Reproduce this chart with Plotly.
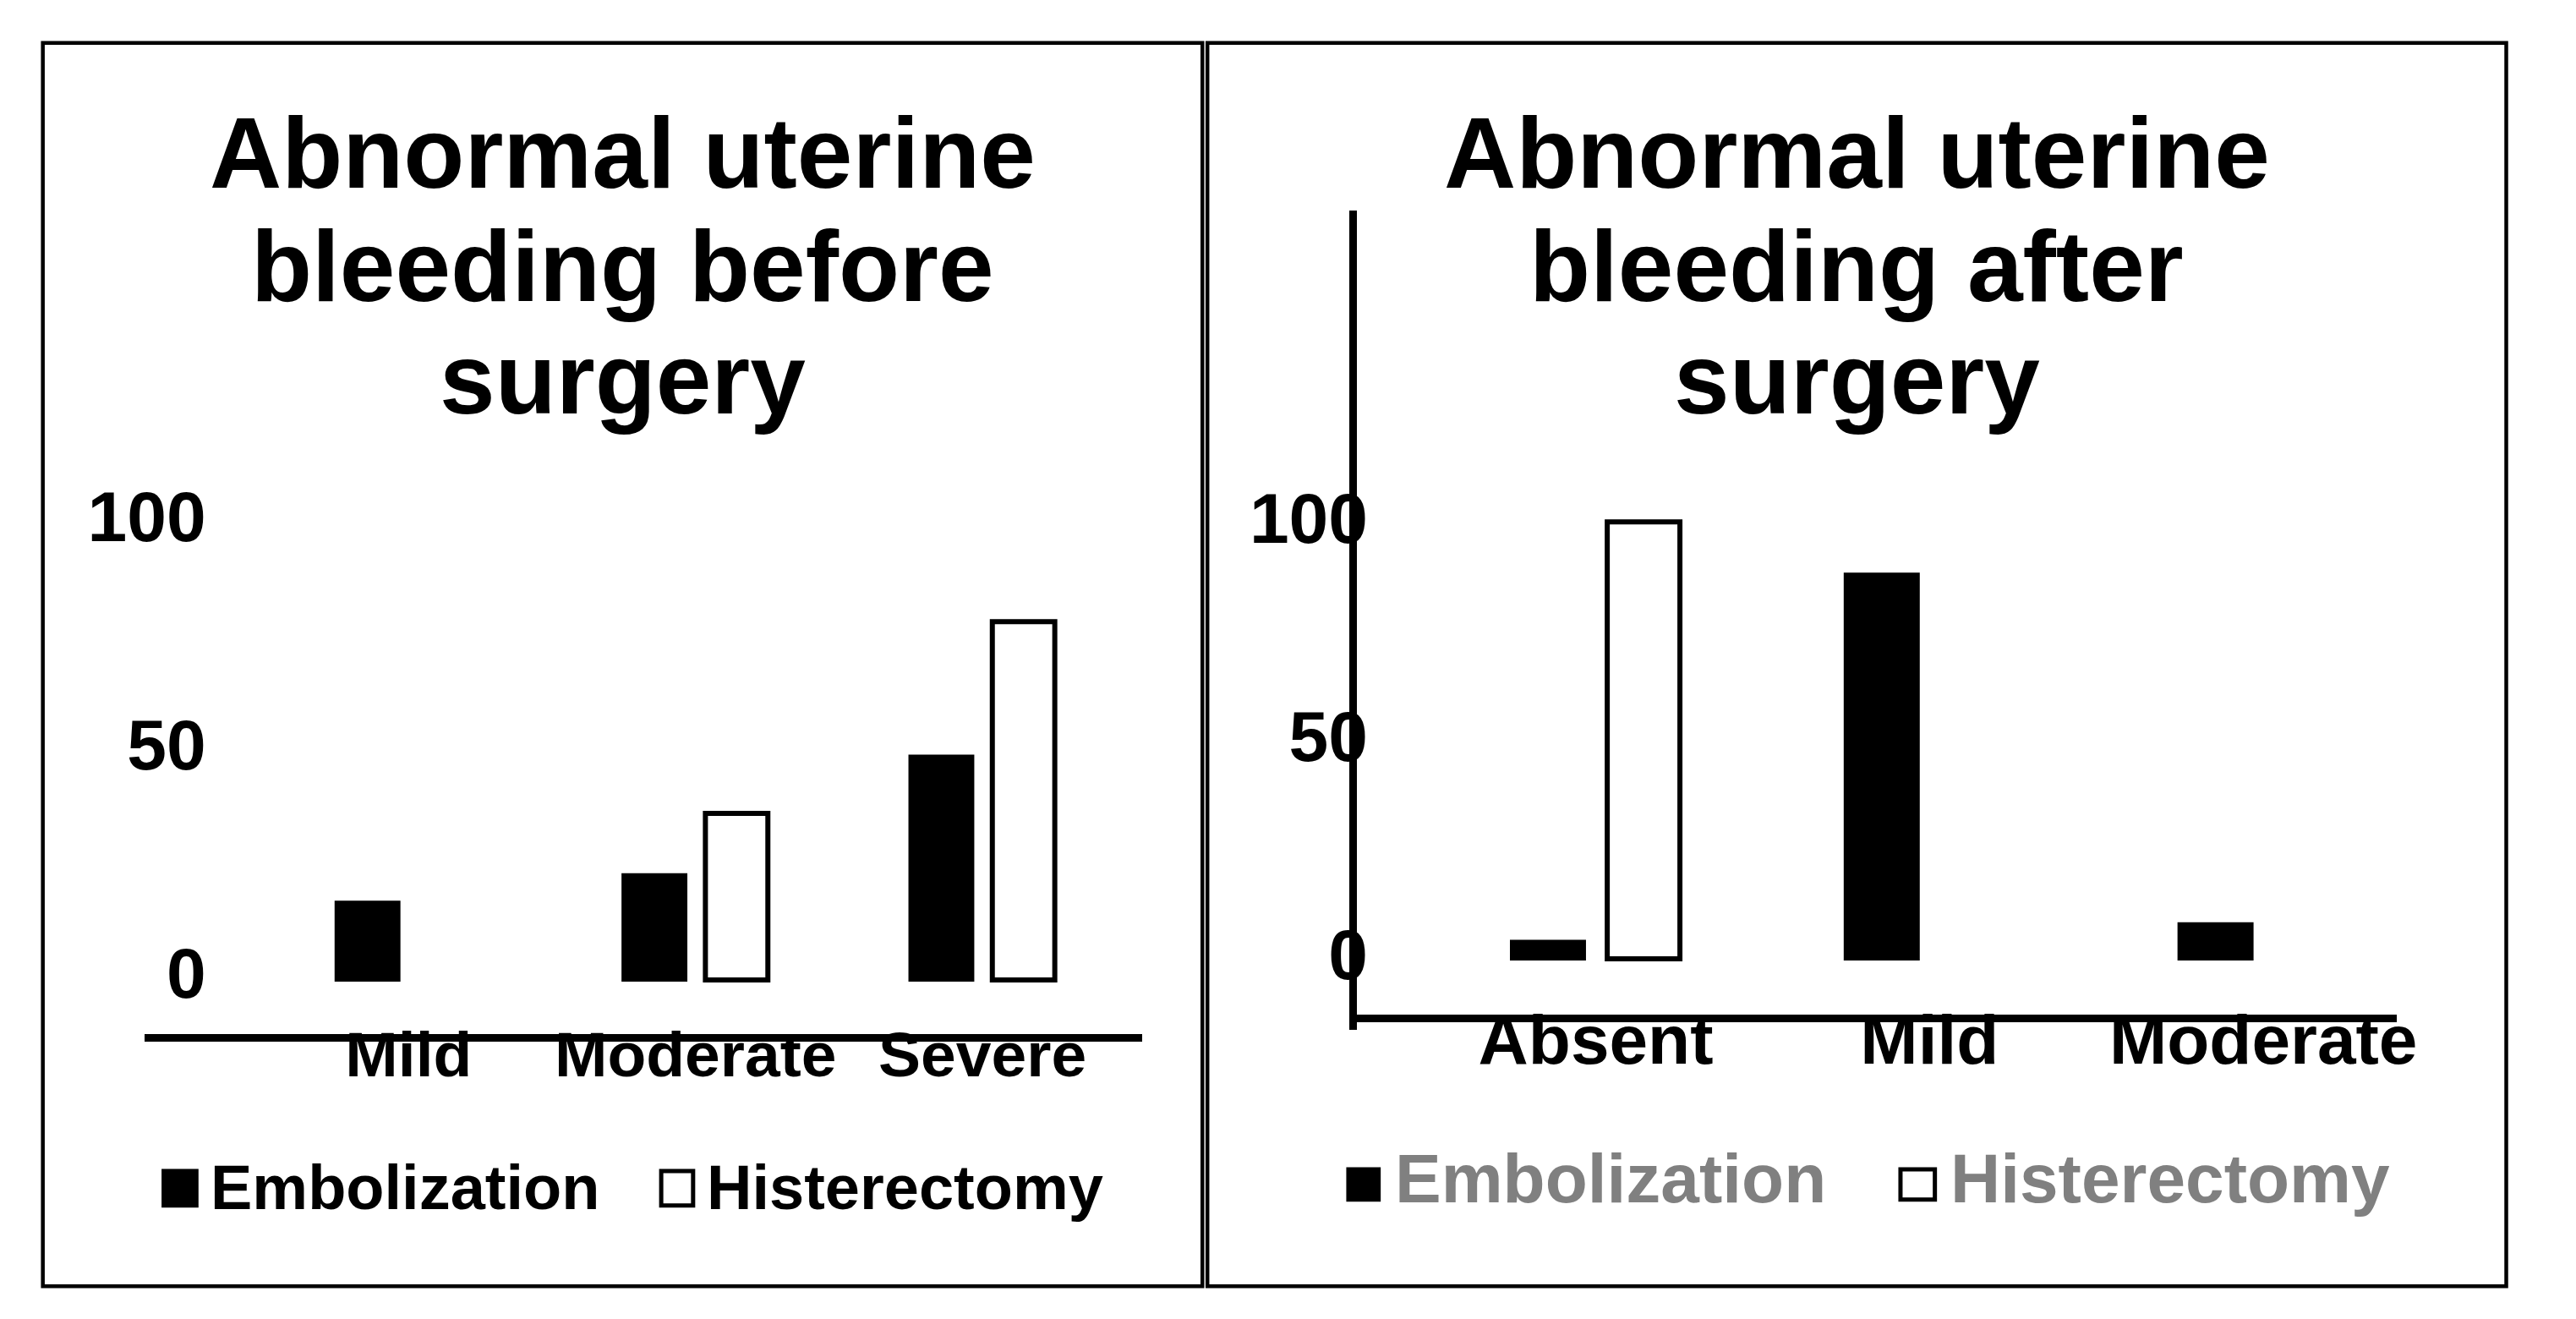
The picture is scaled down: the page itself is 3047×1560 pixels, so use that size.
import plotly.graph_objects as go

# ---------------- data ----------------
CATS_BEFORE = ["Mild", "Moderate", "Severe"]
EMB_BEFORE = [17, 23, 49]
HIST_BEFORE = [None, 36.5, 78.5]   # no bar drawn for Mild

CATS_AFTER = ["Absent", "Mild", "Moderate"]
EMB_AFTER = [4, 88, 8]
HIST_AFTER = [100, None, None]

Y_TICKS = [0, 50, 100]

TITLE_BEFORE = ["Abnormal uterine", "bleeding before", "surgery"]
TITLE_AFTER = ["Abnormal uterine", "bleeding after", "surgery"]
SERIES = ["Embolization", "Histerectomy"]

# ---------------- helpers (pixel -> paper) ----------------
W, H = 3047, 1560
FONT = "Liberation Sans, Arial, sans-serif"


def px(x):
    return x / W


def py(y):
    return 1 - y / H


fig = go.Figure()

# left panel bars
fig.add_trace(go.Bar(x=CATS_BEFORE, y=EMB_BEFORE, name=SERIES[0], xaxis="x", yaxis="y",
                     marker=dict(color="black", line=dict(color="black", width=4)), showlegend=False))
fig.add_trace(go.Bar(x=CATS_BEFORE, y=HIST_BEFORE, name=SERIES[1], xaxis="x", yaxis="y",
                     marker=dict(color="white", line=dict(color="black", width=6)), showlegend=False))
# right panel bars
fig.add_trace(go.Bar(x=CATS_AFTER, y=EMB_AFTER, name=SERIES[0], xaxis="x2", yaxis="y2",
                     marker=dict(color="black", line=dict(color="black", width=4)), showlegend=False))
fig.add_trace(go.Bar(x=CATS_AFTER, y=HIST_AFTER, name=SERIES[1], xaxis="x2", yaxis="y2",
                     marker=dict(color="white", line=dict(color="black", width=6)), showlegend=False))

tick_font_x1 = dict(family=FONT, size=75, color="black", weight="bold")
tick_font_x2 = dict(family=FONT, size=82, color="black", weight="bold")
tick_font_y = dict(family=FONT, size=84, color="black", weight="bold")

fig.update_layout(
    width=W, height=H,
    margin=dict(l=0, r=0, t=0, b=0),
    paper_bgcolor="white", plot_bgcolor="rgba(0,0,0,0)",
    barmode="group", bargap=0.427, bargroupgap=0.24,
    showlegend=False,
    xaxis=dict(domain=[px(164), px(1353)], range=[-0.921, 2.556], anchor="y",
               showline=True, linecolor="black", linewidth=9, ticks="", ticklen=0,
               showgrid=False, zeroline=False, tickfont=tick_font_x1,
               ticklabelstandoff=-49),
    yaxis=dict(domain=[py(1213), py(560)], range=[-11.8, 108.5], anchor="x",
               showline=False, showgrid=False, zeroline=False, ticks="", ticklen=0,
               tickvals=Y_TICKS, tickfont=tick_font_y, ticklabelstandoff=-74,
               ticklabelshift=-8),
    xaxis2=dict(domain=[px(1609), px(2849)], range=[-0.716, 2.401], anchor="free",
                position=py(1194.5),
                showline=True, linecolor="black", linewidth=9, ticks="", ticklen=0,
                showgrid=False, zeroline=False, tickfont=tick_font_x2,
                ticklabelstandoff=-50),
    yaxis2=dict(domain=[py(1208), py(234)], range=[-16.2, 171.3], anchor="x2",
                showline=True, linecolor="black", linewidth=9, showgrid=False,
                zeroline=False, ticks="", ticklen=0,
                tickvals=Y_TICKS, tickfont=tick_font_y, ticklabelstandoff=-39,
                ticklabelshift=-5),
)

# panel borders
for x0, x1 in [(43, 1425), (1431, 2979)]:
    fig.add_shape(type="rect", xref="paper", yref="paper",
                  x0=px(x0), x1=px(x1), y0=py(1513), y1=py(35),
                  line=dict(color="black", width=4.5), fillcolor="rgba(0,0,0,0)")

# titles, one annotation per line to get the tight line spacing
title_font = dict(family=FONT, size=118, color="black", weight="bold")
baselines = [207, 341, 475]
for lines, cx in [(TITLE_BEFORE, 734), (TITLE_AFTER, 2205)]:
    for txt, b in zip(lines, baselines):
        fig.add_annotation(text=txt, xref="paper", yref="paper", x=px(cx), y=py(b - 0.3465 * 118),
                           xanchor="center", yanchor="middle", showarrow=False, font=title_font)


# legends: key boxes + labels
def legend(items, size, color, baseline, top, bottom):
    for fill, label, xs0, xs1, xt in items:
        fig.add_shape(type="rect", xref="paper", yref="paper",
                      x0=px(xs0), x1=px(xs1), y0=py(bottom), y1=py(top),
                      fillcolor=fill, line=dict(color="black", width=5))
        fig.add_annotation(text=label, xref="paper", yref="paper", x=px(xt), y=py(baseline - 0.3465 * size),
                           xanchor="left", yanchor="middle", showarrow=False,
                           font=dict(family=FONT, size=size, color=color, weight="bold"))


legend([("black", SERIES[0], 187, 226, 241), ("white", SERIES[1], 780, 818, 832)],
       74, "black", 1421, 1376, 1417)
legend([("black", SERIES[0], 1599, 1635, 1652), ("white", SERIES[1], 2257, 2298, 2314)],
       82, "#808080", 1413, 1374, 1410)

fig.write_html("out.html")
